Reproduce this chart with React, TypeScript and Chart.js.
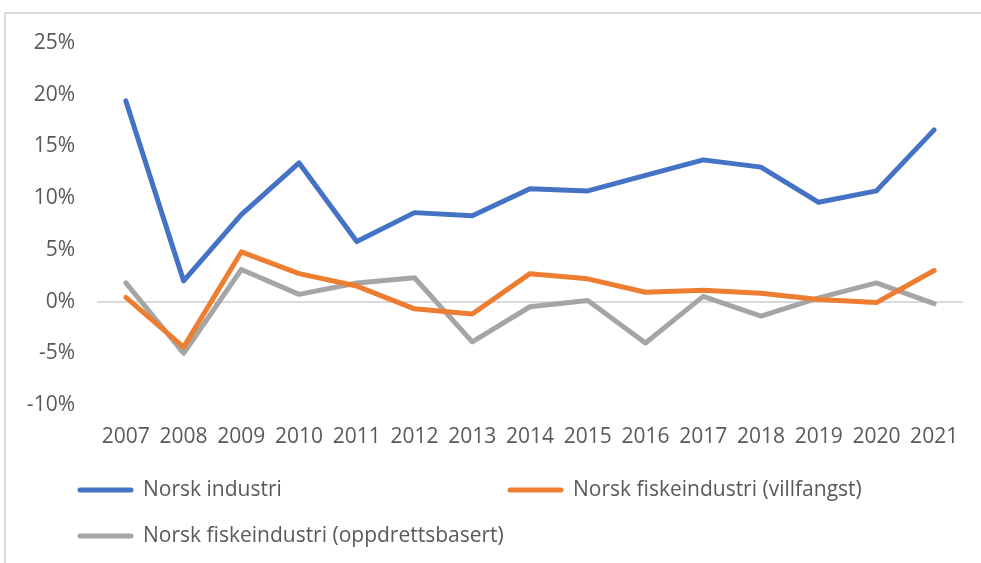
import React, { useEffect, useRef } from "react";
import { Chart, registerables } from "chart.js";

Chart.register(...registerables);

const years = ["2007", "2008", "2009", "2010", "2011", "2012", "2013", "2014", "2015", "2016", "2017", "2018", "2019", "2020", "2021"];
const norskIndustri = [19.4, 2.0, 8.4, 13.4, 5.8, 8.6, 8.3, 10.9, 10.7, 12.2, 13.7, 13.0, 9.6, 10.7, 16.6];
const villfangst = [0.4, -4.4, 4.8, 2.7, 1.5, -0.7, -1.2, 2.7, 2.2, 0.9, 1.1, 0.8, 0.2, -0.1, 3.0];
const oppdrett = [1.8, -5.0, 3.1, 0.7, 1.8, 2.3, -3.9, -0.5, 0.1, -4.0, 0.5, -1.4, 0.35, 1.8, -0.2];
const seriesNames = ["Norsk industri", "Norsk fiskeindustri (villfangst)", "Norsk fiskeindustri (oppdrettsbasert)"];
const seriesColors = ["#4472C4", "#ED7D31", "#A5A5A5"];
const yMin = -10;
const yMax = 25;
const yStep = 5;

const FONT = "'Open Sans', sans-serif";
const TEXT_COLOR = "#595959";

const legendPlugin = {
  id: "excelLegend",
  afterDraw(chart: any) {
    const { ctx, chartArea } = chart;
    ctx.save();
    ctx.font = `21px ${FONT}`;
    ctx.fillStyle = TEXT_COLOR;
    ctx.textBaseline = "middle";
    ctx.textAlign = "left";
    chart.data.datasets.forEach((ds: any, i: number) => {
      const col = i % 2;
      const row = Math.floor(i / 2);
      const x0 = chartArea.left - 19 + col * 430;
      const y = chartArea.bottom + 85 + row * 46;
      ctx.beginPath();
      ctx.strokeStyle = ds.borderColor;
      ctx.lineWidth = 5;
      ctx.lineCap = "round";
      ctx.moveTo(x0 + 2, y);
      ctx.lineTo(x0 + 53, y);
      ctx.stroke();
      ctx.fillText(ds.label, x0 + 65, y);
    });
    ctx.restore();
  },
};

export default function App() {
  const ref = useRef<HTMLCanvasElement | null>(null);

  useEffect(() => {
    if (!ref.current) return;
    const chart = new Chart(ref.current, {
      type: "line",
      data: {
        labels: years,
        datasets: [norskIndustri, villfangst, oppdrett].map((d, i) => ({
          label: seriesNames[i],
          data: d,
          borderColor: seriesColors[i],
          backgroundColor: seriesColors[i],
          borderWidth: 5,
          pointRadius: 0,
          pointHoverRadius: 0,
          tension: 0,
          borderCapStyle: "round" as const,
          borderJoinStyle: "round" as const,
        })),
      },
      options: {
        animation: false,
        responsive: true,
        maintainAspectRatio: false,
        layout: { padding: { top: 43, right: 18, bottom: 0, left: 0 } },
        plugins: {
          legend: { display: false },
          tooltip: { enabled: false },
        },
        scales: {
          x: {
            offset: true,
            grid: { display: false, drawTicks: false },
            border: { display: false },
            ticks: {
              color: TEXT_COLOR,
              font: { family: FONT, size: 21 },
              padding: 19,
              maxRotation: 0,
              autoSkip: false,
            },
            afterFit: (s: any) => {
              s.height = 158;
            },
          },
          y: {
            min: yMin,
            max: yMax,
            grid: {
              drawTicks: false,
              color: (c: any) => (c.tick && c.tick.value === 0 ? "#d9d9d9" : "rgba(0,0,0,0)"),
              lineWidth: 2,
            },
            border: { display: false },
            ticks: {
              stepSize: yStep,
              color: TEXT_COLOR,
              font: { family: FONT, size: 21 },
              padding: 22,
              callback: (v: any) => `${v}%`,
            },
            afterFit: (s: any) => {
              s.width = 97;
            },
          },
        },
      },
      plugins: [legendPlugin],
    });
    return () => chart.destroy();
  }, []);

  return (
    <div style={{ position: "fixed", left: 0, top: 0, width: 981, height: 563, overflow: "hidden", background: "#fff" }}>
      <div
        style={{
          position: "absolute",
          left: 4,
          top: 12,
          width: 1200,
          height: 800,
          border: "2px solid #d9d9d9",
          boxSizing: "border-box",
        }}
      />
      <div style={{ position: "absolute", left: 0, top: 0, width: 981, height: 563 }}>
        <canvas ref={ref} />
      </div>
    </div>
  );
}
